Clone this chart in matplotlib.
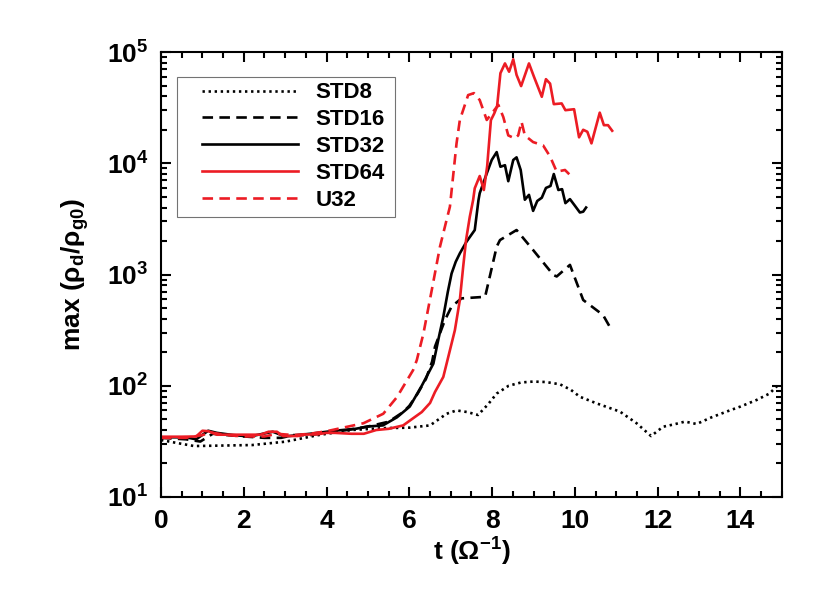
import math
import matplotlib
matplotlib.use("Agg")
import matplotlib.pyplot as plt
from matplotlib.patches import Rectangle
from matplotlib.ticker import FixedLocator, FuncFormatter, LogLocator, MultipleLocator

plt.rcParams['font.family'] = ['Liberation Sans', 'DejaVu Sans']
plt.rcParams['font.weight'] = 'bold'
plt.rcParams['mathtext.fontset'] = 'custom'
plt.rcParams['mathtext.rm'] = 'Liberation Sans:bold'
plt.rcParams['mathtext.bf'] = 'Liberation Sans:bold'
plt.rcParams['mathtext.it'] = 'Liberation Sans:bold:italic'

# --- data ---
t_std8 = [0, 0.4, 0.8, 1.5, 2.2, 3.0, 3.8, 4.6, 5.4, 6.0, 6.5, 6.9, 7.14, 7.4, 7.66, 7.9,
          8.11, 8.4, 8.7, 8.99, 9.3, 9.64, 9.9, 10.12, 10.52, 11.09, 11.49, 11.84, 12.13,
          12.4, 12.66, 12.94, 13.3, 13.74, 14.0, 14.39, 14.7, 14.95]
v_std8 = [32.5, 30.5, 28.7, 29.0, 29.3, 31.4, 36, 40, 41.6, 42, 44, 56, 60, 58, 54.6, 68,
          85, 100, 107, 109, 108, 103, 92, 79.6, 69.5, 58.5, 46, 35.3, 42.8,
          45, 47.6, 45.3, 52, 60, 65, 74.5, 85, 105]

t_std16 = [0, 0.6, 0.95, 1.25, 1.6, 2.0, 2.5, 2.9, 3.2, 3.6, 4.0, 4.5, 5.0, 5.5, 5.85,
           6.0, 6.2, 6.4, 6.55, 6.62, 6.86, 7.02, 7.26, 7.83, 8.11, 8.19, 8.59, 8.99,
           9.48, 9.56, 9.88, 10.2, 10.68, 10.89]
v_std16 = [34, 33, 31.5, 37, 36, 35, 34, 34, 36, 36, 38, 40, 43, 47.5, 58,
           66, 85, 115, 165, 225, 390, 515, 610, 630, 1780, 2040, 2510, 1660,
           990, 960, 1220, 590, 432, 315]

t_std32 = [0, 0.6, 0.85, 1.14, 1.35, 1.75, 2.15, 2.7, 3.0, 3.6, 4.2, 4.7, 5.0, 5.36, 5.7,
           6.01, 6.3, 6.58, 6.7, 6.82, 6.93, 7.02, 7.12, 7.22, 7.38, 7.58, 7.67, 7.7, 7.87,
           7.99, 8.11, 8.2, 8.31, 8.39, 8.51, 8.59, 8.69, 8.79, 8.89, 8.99, 9.09, 9.2,
           9.3, 9.41, 9.49, 9.6, 9.69, 9.77, 9.88, 10.0, 10.12, 10.2, 10.27]
v_std32 = [34.4, 34.4, 33, 39.4, 37.7, 36, 35, 38.6, 35, 37, 39.4, 41, 43, 44, 52,
           65, 100, 158, 260, 416, 700, 1020, 1300, 1550, 1970, 2510, 4660, 5380, 8100,
           10700, 12600, 9300, 9600, 6900, 10700, 11300, 8700, 4700, 5200, 3730, 4580, 4900,
           6000, 6250, 8000, 5750, 5850, 4380, 4760, 4150, 3610, 3670, 4000]

t_std64 = [0, 0.5, 0.85, 1.0, 1.15, 1.35, 2.0, 2.4, 2.6, 2.8, 2.95, 3.3, 3.5, 3.76, 4.0,
           4.2, 4.6, 4.9, 5.2, 5.5, 5.85, 6.09, 6.3, 6.5, 6.62, 6.82, 6.9, 7.1, 7.22, 7.3,
           7.37, 7.46, 7.54, 7.58, 7.7, 7.8, 7.88, 7.97, 8.05, 8.12, 8.2, 8.31, 8.41, 8.51,
           8.59, 8.7, 8.89, 9.01, 9.2, 9.3, 9.4, 9.49, 9.68, 9.77, 9.98, 10.1, 10.2, 10.3,
           10.4, 10.6, 10.7, 10.8, 10.9]
v_std64 = [34.8, 34.8, 35, 39.4, 39, 36.3, 36.3, 36.3, 38.6, 38.6, 35.3, 35.3, 36.5, 36.5, 37.7,
           37.7, 37, 37, 40, 41, 44, 51, 58, 70, 88, 120, 158, 316, 590, 1170,
           2040, 3300, 4660, 5960, 7680, 5750, 9400, 24400, 28000, 32500, 64500, 79000, 66500, 86000,
           62300, 49400, 79000, 60000, 39600, 57000, 52000, 34000, 34500, 30000, 30600, 17100, 20000, 19200,
           15100, 28500, 22000, 22000, 19600]

t_u32 = [0, 0.6, 1.0, 1.2, 1.6, 2.0, 2.5, 2.8, 3.2, 3.6, 4.0, 4.4, 4.89, 5.37, 5.7,
         6.09, 6.18, 6.34, 6.54, 6.74, 6.9, 6.98, 7.14, 7.22, 7.42, 7.56, 7.7, 7.87, 7.99,
         8.15, 8.27, 8.39, 8.55, 8.63, 8.71, 8.79, 8.99, 9.23, 9.4, 9.56, 9.76, 9.96]
v_u32 = [34, 34, 36, 38, 36, 35, 35, 37, 36, 37, 39, 42, 46, 56, 79,
         138, 170, 295, 720, 1780, 3100, 4070, 15100, 24500, 41000, 42700, 37000, 24500, 28000,
         33500, 26000, 17800, 16700, 17800, 23600, 17800, 15500, 14500, 11500, 8400, 8700, 7330]

labels = ['STD8', 'STD16', 'STD32', 'STD64', 'U32']

red = '#ec1c24'
dash = (0, (4.0, 2.4))
dots = (0, (0.9, 1.4))

fig = plt.figure(figsize=(8.3, 6), dpi=100)
ax = fig.add_axes([0.194, 0.1717, 0.748, 0.7416])

lw = 1.9
ax.plot(t_std8, v_std8, color='black', lw=lw, linestyle=dots, label=labels[0])
ax.plot(t_std16, v_std16, color='black', lw=lw, linestyle=dash, label=labels[1])
ax.plot(t_std32, v_std32, color='black', lw=lw, label=labels[2])
ax.plot(t_std64, v_std64, color=red, lw=lw, label=labels[3])
ax.plot(t_u32, v_u32, color=red, lw=lw, linestyle=dash, label=labels[4])

ax.set_yscale('log')
ax.set_xlim(0, 15)
ax.set_ylim(10, 1e5)

ax.xaxis.set_major_locator(MultipleLocator(2))
ax.xaxis.set_minor_locator(MultipleLocator(0.5))
ax.yaxis.set_major_locator(FixedLocator([1e1, 1e2, 1e3, 1e4, 1e5]))
ax.yaxis.set_minor_locator(LogLocator(base=10, subs=range(2, 10)))
ax.yaxis.set_major_formatter(FuncFormatter(lambda v, p: r'$\mathbf{10^{%d}}$' % round(math.log10(v))))

ax.tick_params(which='both', direction='in', top=True, right=True, width=1.5, labelsize=19)
ax.tick_params(which='major', length=7, pad=9)
ax.tick_params(which='minor', length=4)
for s in ax.spines.values():
    s.set_linewidth(1.5)

ax.set_xlabel('t (Ω$^{\\mathbf{-1}}$)', fontsize=19, fontweight='bold', labelpad=2)
ax.set_ylabel('max (ρ$_\\mathbf{d}$/ρ$_\\mathbf{g0}$)', fontsize=19, fontweight='bold')
ax.yaxis.set_label_coords(-0.112, 0.5)

# legend box drawn separately so the padding matches the original
ax.add_patch(Rectangle((0.0258, 0.629), 0.351, 0.3146, transform=ax.transAxes,
                       facecolor='white', edgecolor='0.45', lw=0.8, zorder=4))
leg = ax.legend(loc='upper left', bbox_to_anchor=(0.066, 0.9315), borderaxespad=0,
                borderpad=0, frameon=False, fontsize=16, handlelength=4.3,
                handletextpad=0.8, labelspacing=0.26)
leg.set_zorder(5)
for txt in leg.get_texts():
    txt.set_fontweight('bold')

fig.savefig('out.png', dpi=100)
